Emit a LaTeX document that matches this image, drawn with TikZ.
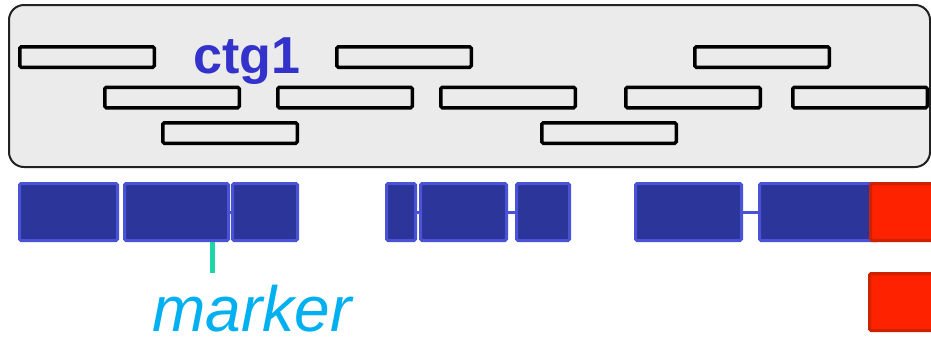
\documentclass[tikz,border=0pt]{standalone}
\usepackage{fontspec}
\setmainfont{Liberation Sans}
\definecolor{boxfill}{HTML}{EBEBEB}
\definecolor{boxline}{HTML}{222222}
\definecolor{ctgblue}{HTML}{3333CC}
\definecolor{blkfill}{HTML}{2C3599}
\definecolor{blkline}{HTML}{4A52D6}
\definecolor{redfill}{HTML}{FF2200}
\definecolor{redline}{HTML}{CC2200}
\definecolor{mkline}{HTML}{1FD4A8}
\definecolor{mktext}{HTML}{00B0F0}
\tikzset{
  readbox/.style={draw=black, line width=3.5pt, fill=boxfill, rounded corners=1.5pt,
    minimum width=134.5pt, minimum height=20.5pt, inner sep=0pt},
  blk/.style={draw=blkline, line width=3pt, fill=blkfill, rounded corners=1.5pt,
    anchor=north west, inner sep=0pt},
  redbox/.style={draw=redline, line width=3pt, fill=redfill, rounded corners=1.5pt,
    anchor=north west, inner sep=0pt},
  link/.style={draw=blkline, line width=3pt},
}
\newcommand{\blkat}[5]{% name, x1, x2, y1, y2
  \node[blk, minimum width={#3-#2-3}, minimum height={#5-#4-3}] (#1) at (#2,#4) {};}
\begin{document}
\begin{tikzpicture}[x=1pt,y=-1pt]
\clip (0,0) rectangle (931,338);
\fill[white] (0,0) rectangle (931,338);
% contig box
\draw[draw=boxline, line width=2pt, fill=boxfill, rounded corners=15pt] (9,5) rectangle (930,167);
\node[anchor=north west, inner sep=0pt, minimum width=921pt, minimum height=162pt] (ctg) at (9,5) {};
% reads
\node[readbox] (r1) at (87,57) {};
\node[readbox] (r2) at (404,57) {};
\node[readbox] (r3) at (762,57) {};
\node[readbox] (r4) at (172,97.5) {};
\node[readbox] (r5) at (345,97.5) {};
\node[readbox] (r6) at (508,97.5) {};
\node[readbox] (r7) at (693,97.5) {};
\node[readbox] (r8) at (860,97.5) {};
\node[readbox] (r9) at (230,133) {};
\node[readbox] (r10) at (609,133) {};
% label
\node[anchor=base west, inner sep=0pt, text=ctgblue, font=\fontsize{52}{52}\selectfont\bfseries] (lbl) at (193,73) {ctg1};
% links between blocks (drawn first)
\coordinate (l1a) at (228,212); \coordinate (l1b) at (233,212);
\coordinate (l2a) at (415,212); \coordinate (l2b) at (421,212);
\coordinate (l3a) at (506,212); \coordinate (l3b) at (517,212);
\coordinate (l4a) at (741,212); \coordinate (l4b) at (760,212);
\draw[link] (l1a) -- (l1b);
\draw[link] (l2a) -- (l2b);
\draw[link] (l3a) -- (l3b);
\draw[link] (l4a) -- (l4b);
% blocks
\blkat{b1}{18}{119}{182}{242}
\blkat{b2}{123}{230}{182}{242}
\blkat{b3}{231}{299}{182}{242}
\blkat{b4}{385}{417}{182}{242}
\blkat{b5}{419}{508}{182}{242}
\blkat{b6}{515}{571}{182}{242}
\blkat{b7}{634}{743}{182}{242}
\blkat{b8}{758}{880}{182}{242}
% red squares
\node[redbox, minimum width=77pt, minimum height=57pt] (red1) at (869,182) {};
\node[redbox, minimum width=77pt, minimum height=57pt] (red2) at (868,272) {};
% marker
\coordinate (mk) at (212.5,273);
\draw[draw=mkline, line width=5pt] (b2.south -| mk) -- (mk);
\node[anchor=base, inner sep=0pt, text depth=0pt, text=mktext, font=\fontsize{64}{64}\selectfont\itshape] (mtext) at (252,331) {marker};
\end{tikzpicture}
\end{document}
